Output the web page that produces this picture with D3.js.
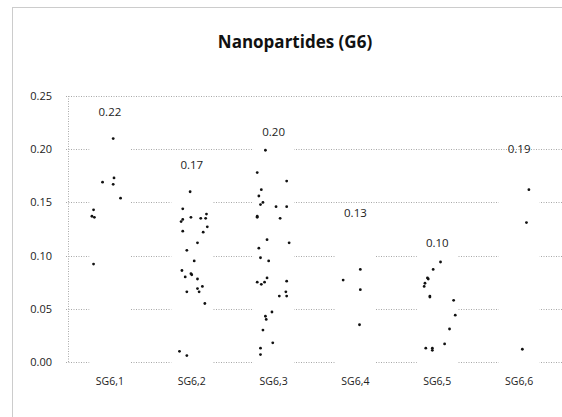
<!DOCTYPE html>
<html>
<head>
<meta charset="utf-8">
<script src="https://cdn.jsdelivr.net/npm/d3@7"></script>
<style>
  body { margin: 0; background: #fff; }
  text { font-family: "Open Sans", "Noto Sans", sans-serif; fill: #222; }
</style>
</head>
<body>
<div id="chart"></div>
<script>
// categories and column (label) values
var categories = ["SG6,1", "SG6,2", "SG6,3", "SG6,4", "SG6,5", "SG6,6"];
var columnValues = [0.224, 0.174, 0.205, 0.129, 0.101, 0.189];
var yTicks = [0, 0.05, 0.10, 0.15, 0.20, 0.25];

// scatter points: x in category units, y values
var sg1X = [1.04, 1.05, 0.91, 1.04, 1.13, 0.80, 0.78, 0.81, 0.80];
var sg1Y = [0.210, 0.173, 0.169, 0.167, 0.154, 0.143, 0.137, 0.136, 0.092];
var sg2X = [1.98, 1.89, 2.18, 1.99, 2.11, 2.17, 1.89, 1.87, 2.19, 1.89, 2.14, 2.07, 1.94,
            2.03, 1.88, 1.99, 2.00, 1.92, 2.07, 2.13, 2.07, 1.94, 2.09, 2.16, 1.85, 1.94];
var sg2Y = [0.160, 0.144, 0.139, 0.136, 0.135, 0.135, 0.134, 0.132, 0.127, 0.123, 0.122, 0.112, 0.105,
            0.095, 0.086, 0.083, 0.082, 0.080, 0.078, 0.071, 0.069, 0.066, 0.066, 0.055, 0.010, 0.006];
var sg3X = [2.90, 2.80, 3.16, 2.85, 2.82, 2.87, 2.84, 3.03, 3.16, 2.80, 2.80, 3.08, 2.92, 3.19, 2.82, 2.84,
            2.94, 2.92, 2.80, 2.89, 2.85, 3.16, 3.15, 3.07, 3.16, 2.98, 2.90, 2.91, 2.87, 2.99, 2.84, 2.84];
var sg3Y = [0.199, 0.178, 0.170, 0.162, 0.156, 0.150, 0.148, 0.146, 0.146, 0.137, 0.136, 0.135, 0.115, 0.112, 0.107, 0.098,
            0.095, 0.079, 0.075, 0.075, 0.073, 0.076, 0.066, 0.062, 0.062, 0.047, 0.043, 0.040, 0.030, 0.018, 0.013, 0.007];
var sg4X = [4.06, 3.85, 4.06, 4.05];
var sg4Y = [0.087, 0.077, 0.068, 0.035];
var sg5X = [5.04, 4.95, 4.88, 4.89, 4.85, 4.84, 4.91, 4.91, 5.20, 5.22, 5.15, 5.09, 4.86, 4.94, 4.94];
var sg5Y = [0.094, 0.087, 0.079, 0.078, 0.074, 0.071, 0.062, 0.061, 0.058, 0.044, 0.031, 0.017, 0.013, 0.013, 0.011];
var sg6X = [6.12, 6.09, 6.04];
var sg6Y = [0.162, 0.131, 0.012];

var allX = [sg1X, sg2X, sg3X, sg4X, sg5X, sg6X];
var allY = [sg1Y, sg2Y, sg3Y, sg4Y, sg5Y, sg6Y];
var points = [];
allX.forEach(function (xs, k) {
    xs.forEach(function (xv, i) { points.push({x: xv, y: allY[k][i]}); });
});

var W = 562, H = 417;
var margin = {top: 96, right: 2, bottom: 55, left: 69};

var svg = d3.select("#chart").append("svg")
    .attr("width", W)
    .attr("height", H);

// chart area border
svg.append("rect")
    .attr("x", 12.5).attr("y", 7.5)
    .attr("width", 600).attr("height", 500)
    .attr("fill", "none")
    .attr("stroke", "#999")
    .attr("stroke-dasharray", "1,1");

// title
svg.append("text")
    .attr("x", 295).attr("y", 48)
    .attr("text-anchor", "middle")
    .style("font-size", "17px")
    .style("font-weight", "bold")
    .style("fill", "#111")
    .text("Nanopartides (G6)");

var x = d3.scaleBand()
    .domain(categories)
    .range([margin.left, W - margin.right])
    .paddingInner(0.5)
    .paddingOuter(0.25);

var xLin = d3.scaleLinear()
    .domain([0.5, 6.5])
    .range([margin.left, W - margin.right]);

var y = d3.scaleLinear()
    .domain([0, 0.25])
    .range([H - margin.bottom, margin.top]);

// gridlines
svg.append("g")
    .selectAll("line")
    .data(yTicks)
    .enter()
    .append("line")
    .attr("x1", margin.left - 3)
    .attr("x2", W)
    .attr("y1", function (d) { return Math.round(y(d)) + 0.5; })
    .attr("y2", function (d) { return Math.round(y(d)) + 0.5; })
    .attr("stroke", "#a8a8a8")
    .attr("stroke-dasharray", "1,1.5");

// y axis line
svg.append("line")
    .attr("x1", margin.left - 0.5).attr("x2", margin.left - 0.5)
    .attr("y1", y(0.25)).attr("y2", y(0))
    .attr("stroke", "#aaa")
    .attr("stroke-dasharray", "1,1.5");

// y tick labels
svg.append("g")
    .selectAll("text")
    .data(yTicks)
    .enter()
    .append("text")
    .attr("x", 52)
    .attr("y", function (d) { return y(d) + 4; })
    .attr("text-anchor", "end")
    .style("font-size", "11px")
    .text(function (d) { return d.toFixed(2); });

// white columns (hide gridlines)
svg.append("g")
    .selectAll("rect")
    .data(columnValues)
    .enter()
    .append("rect")
    .attr("x", function (d, i) { return x(categories[i]); })
    .attr("width", x.bandwidth())
    .attr("y", function (d) { return y(d); })
    .attr("height", function (d) { return y(0) - y(d) + 1; })
    .attr("fill", "#fff");

// column labels
svg.append("g")
    .selectAll("text")
    .data(columnValues)
    .enter()
    .append("text")
    .attr("x", function (d, i) { return x(categories[i]) + x.bandwidth() / 2; })
    .attr("y", function (d) { return y(d) - 8; })
    .attr("text-anchor", "middle")
    .style("font-size", "11.5px")
    .text(function (d) { return d.toFixed(2); });

// scatter dots
svg.append("g")
    .selectAll("circle")
    .data(points)
    .enter()
    .append("circle")
    .attr("cx", function (d) { return xLin(d.x); })
    .attr("cy", function (d) { return y(d.y); })
    .attr("r", 1.4)
    .attr("fill", "#111");

// category labels
svg.append("g")
    .selectAll("text")
    .data(categories)
    .enter()
    .append("text")
    .attr("x", function (d) { return x(d) + x.bandwidth() / 2; })
    .attr("y", 385)
    .attr("text-anchor", "middle")
    .style("font-size", "10.5px")
    .text(function (d) { return d; });
</script>
</body>
</html>
